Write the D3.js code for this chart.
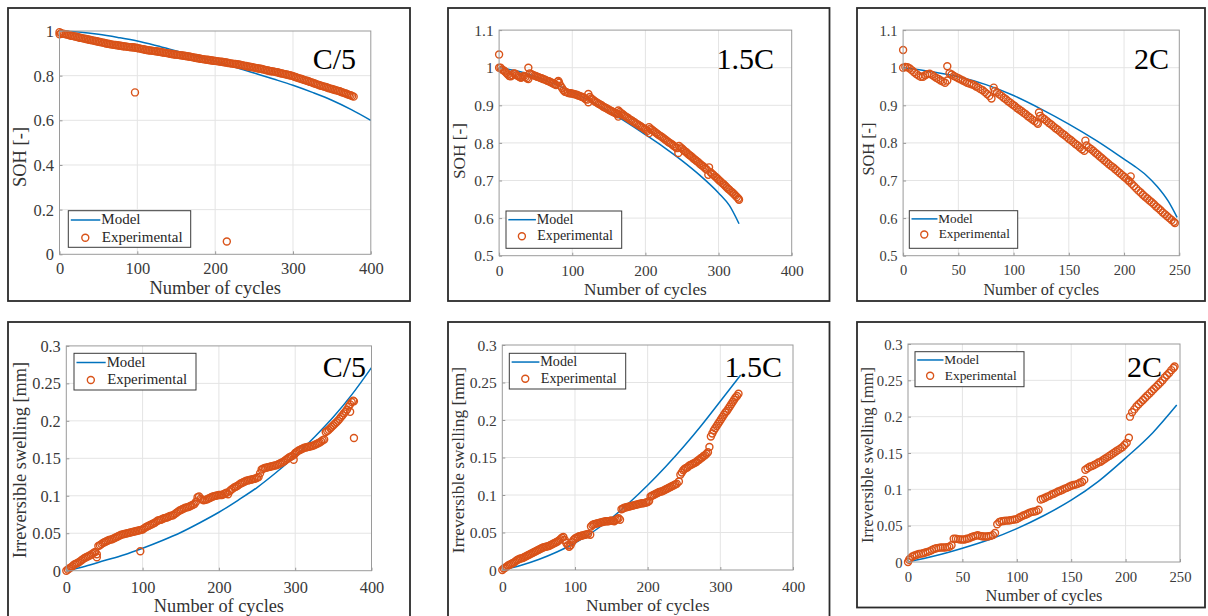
<!DOCTYPE html>
<html>
<head>
<meta charset="utf-8">
<script src="https://cdn.jsdelivr.net/npm/d3@7"></script>
<style>
  html, body { margin: 0; padding: 0; background: #fff; }
  svg { display: block; font-family: "Liberation Serif", "Times New Roman", serif; }
</style>
</head>
<body>
<svg id="fig" width="1208" height="616"></svg>
<script>
// ---------- tick values ----------
const cycleTicks400 = [0, 100, 200, 300, 400];
const cycleTicks250 = [0, 50, 100, 150, 200, 250];
const sohTicksFull = [0, 0.2, 0.4, 0.6, 0.8, 1];
const sohTicksUpper = [0.5, 0.6, 0.7, 0.8, 0.9, 1, 1.1];
const swellTicks = [0, 0.05, 0.1, 0.15, 0.2, 0.25, 0.3];

// ---------- state of health: model curves [cycle, SOH] ----------
const sohModelC5 = [[0,1],[25,0.995],[50,0.985],[75,0.971],[100,0.955],[125,0.934],[150,0.911],[175,0.888],[200,0.864],[225,0.839],[250,0.812],[275,0.785],[300,0.757],[325,0.725],[350,0.69],[375,0.648],[400,0.6]];
const sohModel15C = [[0,1],[25,0.991],[50,0.976],[75,0.957],[100,0.935],[125,0.911],[150,0.884],[175,0.854],[200,0.822],[225,0.789],[250,0.753],[275,0.713],[300,0.667],[315,0.633],[328,0.585]];
const sohModel2C = [[0,1],[25,0.99],[50,0.976],[75,0.955],[100,0.926],[125,0.89],[150,0.85],[175,0.806],[200,0.757],[210,0.737],[220,0.714],[230,0.684],[240,0.645],[248,0.602]];

// ---------- state of health: measurements [cycle, SOH] ----------
const sohExpC5 = [[0,0.995],[0,0.985],[2,0.99],[4,0.988],[6,0.987],[8,0.985],[10,0.984],[12,0.982],[14,0.98],[16,0.978],[18,0.977],[20,0.975],[22,0.974],[24,0.972],[26,0.97],[28,0.969],[30,0.967],[32,0.966],[34,0.964],[36,0.963],[38,0.961],[40,0.96],[42,0.958],[44,0.957],[46,0.955],[48,0.954],[50,0.952],[52,0.951],[54,0.949],[56,0.948],[58,0.946],[60,0.944],[62,0.943],[64,0.942],[66,0.94],[68,0.939],[70,0.938],[72,0.937],[74,0.936],[76,0.935],[78,0.934],[80,0.933],[82,0.932],[84,0.931],[86,0.93],[88,0.929],[90,0.928],[92,0.927],[94,0.927],[96,0.926],[97,0.725],[98,0.925],[100,0.924],[102,0.922],[104,0.921],[106,0.919],[108,0.918],[110,0.916],[112,0.915],[114,0.914],[116,0.913],[118,0.912],[120,0.911],[122,0.91],[124,0.909],[126,0.908],[128,0.907],[130,0.906],[132,0.905],[134,0.903],[136,0.902],[138,0.901],[140,0.9],[142,0.898],[144,0.897],[146,0.896],[148,0.895],[150,0.894],[152,0.893],[154,0.892],[156,0.891],[158,0.89],[160,0.889],[162,0.888],[164,0.887],[166,0.886],[168,0.885],[170,0.883],[172,0.882],[174,0.88],[176,0.879],[178,0.878],[180,0.877],[182,0.875],[184,0.874],[186,0.873],[188,0.872],[190,0.871],[192,0.87],[194,0.869],[196,0.868],[198,0.867],[200,0.866],[202,0.865],[204,0.864],[206,0.863],[208,0.862],[210,0.861],[212,0.86],[214,0.859],[215,0.057],[216,0.858],[218,0.856],[220,0.855],[222,0.854],[224,0.853],[226,0.852],[228,0.851],[230,0.85],[232,0.849],[234,0.847],[236,0.846],[238,0.844],[240,0.843],[242,0.841],[244,0.84],[246,0.839],[248,0.838],[250,0.836],[252,0.835],[254,0.833],[256,0.832],[258,0.831],[260,0.83],[262,0.828],[264,0.826],[266,0.824],[268,0.823],[270,0.821],[272,0.82],[274,0.819],[276,0.818],[278,0.816],[280,0.815],[282,0.813],[284,0.811],[286,0.81],[288,0.808],[290,0.806],[292,0.805],[294,0.803],[296,0.802],[298,0.8],[300,0.798],[302,0.795],[304,0.793],[306,0.79],[308,0.788],[310,0.786],[312,0.784],[314,0.781],[316,0.779],[318,0.777],[320,0.775],[322,0.772],[324,0.77],[326,0.767],[328,0.765],[330,0.762],[332,0.76],[334,0.757],[336,0.755],[338,0.753],[340,0.751],[342,0.749],[344,0.747],[346,0.744],[348,0.742],[350,0.74],[352,0.738],[354,0.736],[356,0.734],[358,0.732],[360,0.73],[362,0.727],[364,0.725],[366,0.722],[368,0.72],[370,0.717],[372,0.714],[374,0.712],[376,0.709],[378,0.706]];

const sohExp15C = [[0,1.035],[0,1],[2,1],[4,0.995],[6,0.993],[8,0.99],[10,0.986],[12,0.982],[14,0.978],[16,0.977],[18,0.98],[20,0.985],[22,0.984],[24,0.98],[26,0.978],[28,0.975],[30,0.973],[32,0.976],[34,0.978],[36,0.975],[38,0.972],[40,1],[40,0.97],[42,0.985],[44,0.983],[46,0.981],[48,0.979],[50,0.978],[52,0.976],[54,0.975],[56,0.973],[58,0.972],[60,0.97],[62,0.969],[64,0.967],[66,0.965],[68,0.964],[70,0.962],[72,0.96],[74,0.958],[76,0.956],[78,0.954],[80,0.963],[81,0.965],[82,0.96],[84,0.952],[86,0.946],[88,0.94],[90,0.936],[92,0.935],[94,0.933],[96,0.932],[98,0.932],[100,0.931],[102,0.93],[104,0.929],[106,0.928],[108,0.926],[110,0.925],[112,0.923],[114,0.922],[116,0.92],[118,0.917],[120,0.915],[122,0.93],[122,0.908],[124,0.922],[126,0.918],[128,0.915],[130,0.912],[132,0.909],[134,0.907],[136,0.904],[138,0.902],[140,0.9],[142,0.897],[144,0.895],[146,0.893],[148,0.891],[150,0.888],[152,0.886],[154,0.884],[156,0.882],[158,0.88],[160,0.878],[162,0.876],[163,0.886],[163,0.87],[165,0.882],[167,0.879],[169,0.876],[171,0.873],[173,0.87],[175,0.868],[177,0.865],[179,0.862],[181,0.86],[183,0.857],[185,0.855],[187,0.852],[189,0.85],[191,0.847],[193,0.845],[195,0.842],[197,0.84],[199,0.837],[201,0.835],[203,0.832],[205,0.842],[205,0.826],[207,0.838],[209,0.835],[211,0.832],[213,0.829],[215,0.826],[217,0.823],[219,0.82],[221,0.818],[223,0.815],[225,0.812],[227,0.809],[229,0.806],[231,0.803],[233,0.8],[235,0.798],[237,0.795],[239,0.792],[241,0.789],[243,0.786],[245,0.773],[246,0.792],[248,0.788],[250,0.785],[252,0.781],[254,0.778],[256,0.775],[258,0.771],[260,0.768],[262,0.765],[264,0.762],[266,0.758],[268,0.755],[270,0.752],[272,0.749],[274,0.745],[276,0.742],[278,0.739],[280,0.736],[282,0.732],[284,0.729],[286,0.715],[287,0.735],[289,0.722],[291,0.718],[293,0.715],[295,0.711],[297,0.708],[299,0.704],[301,0.7],[303,0.697],[305,0.693],[307,0.69],[309,0.686],[311,0.682],[313,0.678],[315,0.675],[317,0.671],[319,0.668],[321,0.664],[323,0.66],[325,0.656],[327,0.652],[328,0.649]];

const sohExp2C = [[0,1.047],[0,1],[2,1.002],[4,1.001],[6,0.998],[8,0.993],[10,0.988],[12,0.983],[14,0.979],[16,0.976],[18,0.976],[20,0.98],[22,0.983],[24,0.984],[26,0.981],[28,0.977],[30,0.973],[32,0.97],[34,0.966],[36,0.963],[38,0.96],[40,1.004],[40,0.966],[42,0.985],[44,0.982],[46,0.978],[48,0.975],[50,0.972],[52,0.969],[54,0.966],[56,0.963],[58,0.96],[60,0.958],[62,0.956],[64,0.954],[66,0.95],[68,0.947],[70,0.943],[72,0.94],[74,0.935],[76,0.93],[78,0.925],[80,0.918],[82,0.947],[83,0.938],[85,0.934],[87,0.929],[89,0.925],[91,0.92],[93,0.916],[95,0.911],[97,0.907],[99,0.902],[101,0.898],[103,0.893],[105,0.889],[107,0.885],[109,0.88],[111,0.876],[113,0.871],[115,0.867],[117,0.862],[119,0.858],[121,0.854],[122,0.851],[123,0.881],[124,0.872],[126,0.867],[128,0.863],[130,0.858],[132,0.853],[134,0.849],[136,0.844],[138,0.839],[140,0.835],[142,0.83],[144,0.825],[146,0.821],[148,0.816],[150,0.811],[152,0.807],[154,0.802],[156,0.797],[158,0.793],[160,0.788],[162,0.783],[164,0.779],[165,0.806],[166,0.793],[168,0.788],[170,0.784],[172,0.779],[174,0.774],[176,0.769],[178,0.764],[180,0.759],[182,0.754],[184,0.749],[186,0.744],[188,0.739],[190,0.735],[192,0.73],[194,0.725],[196,0.72],[198,0.715],[200,0.71],[202,0.705],[204,0.7],[205,0.697],[206,0.711],[207,0.691],[209,0.685],[211,0.679],[213,0.673],[215,0.668],[217,0.662],[219,0.657],[221,0.652],[223,0.647],[225,0.642],[227,0.637],[229,0.631],[231,0.626],[233,0.621],[235,0.615],[237,0.61],[239,0.605],[241,0.6],[243,0.595],[245,0.59],[246,0.587]];

// ---------- irreversible swelling: model curves [cycle, mm] ----------
const swellModelC5 = [[0,0],[25,0.006],[50,0.0135],[75,0.021],[100,0.03],[125,0.04],[150,0.051],[175,0.064],[200,0.078],[225,0.094],[250,0.111],[275,0.131],[300,0.153],[325,0.178],[350,0.205],[375,0.236],[400,0.271]];
const swellModel15C = [[0,0],[25,0.006],[50,0.014],[75,0.024],[100,0.036],[125,0.051],[150,0.069],[175,0.09],[200,0.113],[225,0.138],[250,0.165],[275,0.194],[300,0.225],[328,0.26]];
const swellModel2C = [[0,0],[25,0.0085],[50,0.019],[75,0.031],[100,0.046],[125,0.064],[150,0.085],[175,0.111],[200,0.143],[225,0.178],[247,0.216]];

// ---------- irreversible swelling: measurements [cycle, mm] ----------
const swellExpC5 = [[0,0],[2,0.0015],[4,0.003],[6,0.0045],[8,0.006],[10,0.008],[12,0.009],[14,0.01],[16,0.011],[18,0.0125],[20,0.014],[22,0.0155],[24,0.017],[26,0.018],[28,0.019],[30,0.02],[32,0.021],[34,0.0225],[36,0.024],[38,0.025],[40,0.018],[40,0.022],[42,0.033],[44,0.034],[46,0.0355],[48,0.037],[50,0.038],[52,0.039],[54,0.04],[56,0.041],[58,0.0415],[60,0.042],[62,0.043],[64,0.044],[66,0.045],[68,0.046],[70,0.047],[72,0.048],[74,0.0485],[76,0.049],[78,0.0495],[80,0.05],[82,0.0505],[84,0.051],[86,0.0515],[88,0.052],[90,0.0525],[92,0.053],[94,0.0535],[96,0.054],[97,0.026],[98,0.0545],[100,0.055],[102,0.0565],[104,0.058],[106,0.059],[108,0.06],[110,0.061],[112,0.062],[114,0.063],[116,0.064],[118,0.0655],[120,0.067],[122,0.0675],[124,0.068],[126,0.069],[128,0.07],[130,0.0705],[132,0.071],[134,0.072],[136,0.073],[138,0.0735],[140,0.074],[142,0.0755],[144,0.077],[146,0.0785],[148,0.08],[150,0.081],[152,0.082],[154,0.083],[156,0.084],[158,0.0845],[160,0.085],[162,0.086],[164,0.087],[166,0.088],[168,0.089],[170,0.092],[172,0.098],[174,0.099],[176,0.096],[178,0.095],[180,0.094],[182,0.0945],[184,0.095],[186,0.096],[188,0.097],[190,0.098],[192,0.099],[194,0.0995],[196,0.1],[198,0.1005],[200,0.101],[202,0.101],[204,0.101],[206,0.102],[208,0.103],[210,0.104],[212,0.102],[214,0.106],[216,0.108],[218,0.1095],[220,0.111],[222,0.112],[224,0.113],[226,0.1145],[228,0.116],[230,0.117],[232,0.118],[234,0.119],[236,0.12],[238,0.1205],[240,0.121],[242,0.1215],[244,0.122],[246,0.1225],[248,0.123],[250,0.124],[252,0.125],[254,0.13],[256,0.135],[258,0.136],[260,0.137],[262,0.1375],[264,0.138],[266,0.1385],[268,0.139],[270,0.1395],[272,0.14],[274,0.1405],[276,0.141],[278,0.142],[280,0.143],[282,0.144],[284,0.145],[286,0.1465],[288,0.148],[290,0.1495],[292,0.151],[294,0.152],[296,0.153],[298,0.148],[299,0.155],[300,0.157],[302,0.1585],[304,0.16],[306,0.161],[308,0.162],[310,0.163],[312,0.164],[314,0.1645],[316,0.165],[318,0.1655],[320,0.166],[322,0.1665],[324,0.167],[326,0.168],[328,0.169],[330,0.17],[332,0.171],[334,0.1725],[336,0.174],[338,0.175],[340,0.185],[342,0.1865],[344,0.188],[346,0.19],[348,0.192],[350,0.194],[352,0.196],[354,0.198],[356,0.2],[358,0.2025],[360,0.205],[362,0.2075],[364,0.21],[366,0.2125],[368,0.215],[370,0.219],[372,0.212],[372,0.222],[374,0.225],[376,0.227],[377,0.177],[377,0.226]];

const swellExp15C = [[0,0],[2,0.002],[4,0.003],[6,0.0045],[8,0.006],[10,0.007],[12,0.008],[14,0.009],[16,0.01],[18,0.0115],[20,0.013],[22,0.014],[24,0.015],[26,0.0155],[28,0.016],[30,0.017],[32,0.018],[34,0.019],[36,0.02],[38,0.021],[40,0.022],[42,0.023],[44,0.024],[46,0.025],[48,0.026],[50,0.027],[52,0.028],[54,0.029],[56,0.03],[58,0.0305],[60,0.031],[62,0.0315],[64,0.032],[66,0.033],[68,0.034],[70,0.035],[72,0.036],[74,0.037],[76,0.038],[78,0.0395],[80,0.041],[82,0.043],[84,0.044],[86,0.04],[88,0.036],[90,0.033],[92,0.031],[94,0.033],[96,0.037],[98,0.04],[100,0.042],[102,0.043],[104,0.044],[106,0.045],[108,0.0455],[110,0.046],[112,0.0465],[114,0.047],[116,0.0475],[118,0.048],[121,0.047],[122,0.058],[124,0.06],[126,0.061],[128,0.0615],[130,0.062],[132,0.0625],[134,0.063],[136,0.0635],[138,0.064],[140,0.0645],[142,0.065],[144,0.065],[146,0.065],[148,0.0655],[150,0.066],[152,0.0655],[154,0.065],[156,0.0665],[158,0.068],[160,0.069],[162,0.067],[164,0.081],[166,0.082],[168,0.083],[170,0.0835],[172,0.084],[174,0.0845],[176,0.085],[178,0.0855],[180,0.086],[182,0.0865],[184,0.087],[186,0.0875],[188,0.088],[190,0.0885],[192,0.089],[194,0.089],[196,0.0895],[198,0.09],[200,0.0905],[202,0.092],[204,0.098],[206,0.099],[208,0.1],[210,0.101],[212,0.102],[214,0.103],[216,0.104],[218,0.1045],[220,0.105],[222,0.106],[224,0.107],[226,0.108],[228,0.109],[230,0.11],[232,0.111],[234,0.112],[236,0.113],[238,0.114],[240,0.115],[243,0.118],[245,0.127],[247,0.13],[249,0.133],[251,0.135],[253,0.136],[255,0.137],[257,0.139],[259,0.14],[261,0.141],[263,0.142],[265,0.143],[267,0.144],[269,0.146],[271,0.147],[273,0.149],[275,0.15],[277,0.152],[279,0.153],[281,0.155],[283,0.157],[285,0.164],[287,0.178],[289,0.182],[291,0.186],[293,0.189],[295,0.192],[297,0.195],[299,0.198],[301,0.201],[303,0.204],[305,0.207],[307,0.21],[309,0.212],[311,0.215],[313,0.218],[315,0.221],[317,0.224],[319,0.227],[321,0.23],[323,0.232],[325,0.235]];

const swellExp2C = [[0,0],[1,0.003],[2,0.005],[4,0.0075],[6,0.009],[8,0.01],[10,0.011],[12,0.0115],[14,0.012],[16,0.013],[18,0.014],[20,0.015],[22,0.0165],[24,0.018],[26,0.019],[28,0.0195],[30,0.02],[32,0.02],[34,0.02],[36,0.0205],[38,0.021],[40,0.023],[42,0.032],[44,0.032],[46,0.0315],[48,0.031],[50,0.031],[52,0.031],[54,0.032],[56,0.0325],[58,0.034],[60,0.035],[62,0.036],[64,0.037],[66,0.036],[68,0.0355],[70,0.035],[72,0.035],[74,0.0355],[76,0.036],[78,0.037],[80,0.04],[82,0.052],[84,0.055],[86,0.056],[88,0.0565],[90,0.057],[92,0.057],[94,0.0575],[96,0.058],[98,0.0585],[100,0.059],[102,0.061],[104,0.0625],[106,0.064],[108,0.065],[110,0.0665],[112,0.068],[114,0.069],[116,0.0695],[118,0.07],[120,0.072],[122,0.086],[124,0.087],[126,0.0885],[128,0.09],[130,0.091],[132,0.093],[134,0.094],[136,0.0955],[138,0.097],[140,0.098],[142,0.0995],[144,0.101],[146,0.102],[148,0.1035],[150,0.105],[152,0.106],[154,0.1065],[156,0.1075],[158,0.109],[160,0.11],[162,0.113],[163,0.127],[165,0.129],[167,0.131],[169,0.132],[171,0.1335],[173,0.135],[175,0.137],[177,0.138],[179,0.14],[181,0.142],[183,0.144],[185,0.146],[187,0.148],[189,0.15],[191,0.152],[193,0.154],[195,0.156],[197,0.158],[199,0.161],[201,0.164],[203,0.171],[204,0.2],[206,0.206],[208,0.21],[210,0.214],[212,0.217],[214,0.22],[216,0.223],[218,0.226],[220,0.229],[222,0.232],[224,0.235],[226,0.238],[228,0.241],[230,0.244],[232,0.247],[234,0.25],[236,0.254],[238,0.257],[240,0.26],[242,0.264],[244,0.267],[245,0.269]];

// ---------- figure layout ----------
const MODEL_COLOR = "#0072BD";
const EXP_COLOR = "#D95319";

const panels = [
  { frame: [8, 8, 402, 293], plot: [59.5, 31, 370.8, 254.3], s: 1.0,
    xDomain: [0, 400], yDomain: [0, 1], xTicks: cycleTicks400, yTicks: sohTicksFull,
    model: sohModelC5, exp: sohExpC5, yLabel: "SOH [-]", rate: "C/5",
    rateX: 356, rateY: 68.5, legend: [68.3, 210.7, 122.4, 36.6], xTickDy: 19.5, xLabDy: 39.7, yLabX: 20, yLabY: 157 },
  { frame: [448, 8, 381.5, 293], plot: [499.1, 30.1, 791.7, 255.7], s: 0.935,
    xDomain: [0, 400], yDomain: [0.5, 1.1], xTicks: cycleTicks400, yTicks: sohTicksUpper,
    model: sohModel15C, exp: sohExp15C, yLabel: "SOH [-]", rate: "1.5C",
    rateX: 774, rateY: 68.5, legend: [506, 211, 115.7, 37.3], xTickDy: 20.5, xLabDy: 39.3, yLabX: 459, yLabY: 151 },
  { frame: [857, 8, 348, 293], plot: [903.1, 30.1, 1179.3, 255.7], s: 0.88,
    xDomain: [0, 250], yDomain: [0.5, 1.1], xTicks: cycleTicks250, yTicks: sohTicksUpper,
    model: sohModel2C, exp: sohExp2C, yLabel: "SOH [-]", rate: "2C",
    rateX: 1169, rateY: 68.5, legend: [909.3, 210.7, 108.4, 37.6], xTickDy: 19.7, xLabDy: 39.3, yLabX: 868, yLabY: 149 },
  { frame: [8, 322, 402, 310], plot: [66.3, 345.9, 371.5, 570.7], s: 0.99,
    xDomain: [0, 400], yDomain: [0, 0.3], xTicks: cycleTicks400, yTicks: swellTicks,
    model: swellModelC5, exp: swellExpC5, yLabel: "Irreversible swelling [mm]", rate: "C/5",
    rateX: 366, rateY: 377, legend: [74, 353.3, 122, 36.7], xTickDy: 22, xLabDy: 41, yLabX: 20, yLabY: 460 },
  { frame: [448, 322, 381.5, 310], plot: [502.3, 345, 793, 570], s: 0.94,
    xDomain: [0, 400], yDomain: [0, 0.3], xTicks: cycleTicks400, yTicks: swellTicks,
    model: swellModel15C, exp: swellExp15C, yLabel: "Irreversible swelling [mm]", rate: "1.5C",
    rateX: 782, rateY: 377, legend: [509.3, 353.3, 116.4, 35.7], xTickDy: 22, xLabDy: 41, yLabX: 458, yLabY: 460 },
  { frame: [857, 322, 348, 285.5], plot: [908, 344, 1180, 562], s: 0.89,
    xDomain: [0, 250], yDomain: [0, 0.3], xTicks: cycleTicks250, yTicks: swellTicks,
    model: swellModel2C, exp: swellExp2C, yLabel: "Irreversible swelling [mm]", rate: "2C",
    rateX: 1162, rateY: 377, legend: [915, 351.7, 109, 35], xTickDy: 19.7, xLabDy: 38.7, yLabX: 867, yLabY: 455 }
];

const svg = d3.select("#fig");
const fmt = d => String(d);

panels.forEach(p => {
  const s = p.s;
  const g = svg.append("g");
  const [L, T, R, B] = p.plot;
  const x = d3.scaleLinear().domain(p.xDomain).range([L, R]);
  const y = d3.scaleLinear().domain(p.yDomain).range([B, T]);

  // outer frame of the sub-figure
  g.append("rect")
    .attr("x", p.frame[0]).attr("y", p.frame[1])
    .attr("width", p.frame[2]).attr("height", p.frame[3])
    .attr("fill", "none").attr("stroke", "#2b2b2b").attr("stroke-width", 1.8);

  // grid lines
  const grid = g.append("g").attr("stroke", "#e4e4e4").attr("stroke-width", 1);
  grid.selectAll(".gx").data(p.xTicks.slice(1, -1)).join("line")
    .attr("x1", d => x(d)).attr("x2", d => x(d)).attr("y1", T).attr("y2", B);
  grid.selectAll(".gy").data(p.yTicks.slice(1, -1)).join("line")
    .attr("x1", L).attr("x2", R).attr("y1", d => y(d)).attr("y2", d => y(d));

  // model curve
  g.append("path")
    .datum(p.model)
    .attr("fill", "none").attr("stroke", MODEL_COLOR).attr("stroke-width", 1.5)
    .attr("d", d3.line().x(d => x(d[0])).y(d => y(d[1])).curve(d3.curveMonotoneX));

  // measured points
  g.append("g").selectAll("circle").data(p.exp).join("circle")
    .attr("cx", d => x(d[0])).attr("cy", d => y(d[1])).attr("r", 3.5)
    .attr("fill", "none").attr("stroke", EXP_COLOR).attr("stroke-width", 1.4);

  // axes box
  g.append("rect").attr("x", L).attr("y", T).attr("width", R - L).attr("height", B - T)
    .attr("fill", "none").attr("stroke", "#9a9a9a").attr("stroke-width", 1);

  // tick marks and labels
  const xa = g.append("g").attr("transform", `translate(0,${B})`)
    .call(d3.axisBottom(x).tickValues(p.xTicks).tickFormat(fmt).tickSize(-3));
  const ya = g.append("g").attr("transform", `translate(${L},0)`)
    .call(d3.axisLeft(y).tickValues(p.yTicks).tickFormat(fmt).tickSize(-3));
  [xa, ya].forEach(a => {
    a.attr("font-family", null).attr("font-size", null);
    a.select(".domain").remove();
    a.selectAll(".tick line").attr("stroke", "#9a9a9a");
    a.selectAll("text").attr("fill", "#3a3a3a").attr("font-size", (16.5 * s).toFixed(2));
  });
  xa.selectAll("text").attr("y", p.xTickDy).attr("dy", null);
  ya.selectAll("text").attr("x", -5.5).attr("dy", "0.34em");

  // axis titles
  g.append("text")
    .attr("x", (L + R) / 2).attr("y", B + p.xLabDy)
    .attr("text-anchor", "middle").attr("font-size", (18.5 * s).toFixed(2)).attr("fill", "#333")
    .text("Number of cycles");
  g.append("text")
    .attr("transform", `translate(${p.yLabX},${p.yLabY}) rotate(-90)`)
    .attr("text-anchor", "middle").attr("dy", "0.35em")
    .attr("font-size", (18.5 * s).toFixed(2)).attr("fill", "#333")
    .text(p.yLabel);

  // C-rate annotation
  g.append("text")
    .attr("x", p.rateX).attr("y", p.rateY).attr("text-anchor", "end")
    .attr("font-size", 30).attr("fill", "#000")
    .text(p.rate);

  // legend
  const [lx, ly, lw, lh] = p.legend;
  const lg = g.append("g");
  lg.append("rect").attr("x", lx).attr("y", ly).attr("width", lw).attr("height", lh)
    .attr("fill", "#fff").attr("stroke", "#3a3a3a").attr("stroke-width", 1);
  lg.append("line")
    .attr("x1", lx + 2.5 * s).attr("x2", lx + 32 * s)
    .attr("y1", ly + 9.3 * s).attr("y2", ly + 9.3 * s)
    .attr("stroke", MODEL_COLOR).attr("stroke-width", 1.5);
  lg.append("text").attr("x", lx + 33 * s).attr("y", ly + 13.6 * s)
    .attr("font-size", (15 * s).toFixed(2)).attr("fill", "#262626").text("Model");
  lg.append("circle").attr("cx", lx + 17 * s).attr("cy", ly + 27 * s).attr("r", 3.5)
    .attr("fill", "none").attr("stroke", EXP_COLOR).attr("stroke-width", 1.4);
  lg.append("text").attr("x", lx + 33.5 * s).attr("y", ly + 31.5 * s)
    .attr("font-size", (15 * s).toFixed(2)).attr("fill", "#262626").text("Experimental");
});
</script>
</body>
</html>
